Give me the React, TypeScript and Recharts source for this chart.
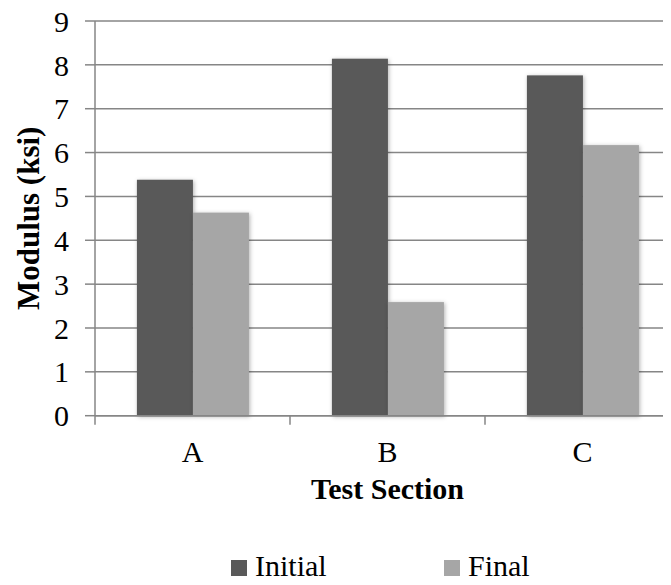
import React from "react";
import { BarChart, Bar, XAxis, YAxis, CartesianGrid, Legend } from "recharts";

const categories = ["A", "B", "C"];
const initialValues = [5.38, 8.14, 7.76];
const finalValues = [4.63, 2.59, 6.17];
const yTicks = [0, 1, 2, 3, 4, 5, 6, 7, 8, 9];
const seriesNames = ["Initial", "Final"];
const seriesColors = ["#595959", "#A6A6A6"];

const data = categories.map((c, i) => ({
  name: c,
  Initial: initialValues[i],
  Final: finalValues[i],
}));

const FONT = "Times New Roman, Liberation Serif, serif";
const AXIS_COLOR = "#868686";

const ShadowBar = (props: any) => {
  const { x, y, width, height, fill } = props;
  if (!height || height <= 0) return null;
  return (
    <rect
      x={x}
      y={y}
      width={width}
      height={height}
      fill={fill}
      style={{ filter: "drop-shadow(1px 1px 2px rgba(0,0,0,0.3))" }}
    />
  );
};

const XTick = (props: any) => {
  const { x, y, payload, index, visibleTicksCount } = props;
  const half = payload && payload.offset ? payload.offset : 97.5;
  const axisY = y - 25;
  return (
    <g>
      <line x1={x - half} x2={x - half} y1={axisY} y2={axisY + 9} stroke={AXIS_COLOR} strokeWidth={1.5} />
      {index === visibleTicksCount - 1 ? (
        <line x1={x + half} x2={x + half} y1={axisY} y2={axisY + 9} stroke={AXIS_COLOR} strokeWidth={1.5} />
      ) : null}
      <text x={x} y={y} dy="0.71em" textAnchor="middle" style={{ fontFamily: FONT, fontSize: 30 }} fill="#000">
        {payload.value}
      </text>
    </g>
  );
};

const YTick = (props: any) => {
  const { x, y, payload } = props;
  return (
    <text x={x} y={y} dy="0.355em" textAnchor="end" style={{ fontFamily: FONT, fontSize: 30 }} fill="#000">
      {payload.value}
    </text>
  );
};

const LegendContent = () => (
  <div style={{ display: "flex", fontFamily: FONT, fontSize: 30, color: "#000", lineHeight: "30px" }}>
    {seriesNames.map((n, i) => (
      <div key={n} style={{ width: 213, display: "flex", alignItems: "baseline" }}>
        <span style={{ display: "inline-block", width: 16, height: 16, background: seriesColors[i], marginRight: 8 }} />
        <span>{n}</span>
      </div>
    ))}
  </div>
);

export default function App() {
  return (
    <div style={{ margin: -8, width: 671, height: 585, overflow: "hidden", background: "#fff", fontFamily: FONT }}>
      <BarChart
        width={700}
        height={585}
        data={data}
        margin={{ top: 21, right: 20, left: 0, bottom: 0 }}
        barCategoryGap="21.5%"
        barGap={0}
        style={{ fontFamily: FONT }}
      >
        <CartesianGrid vertical={false} stroke={AXIS_COLOR} strokeWidth={1.5} />
        <XAxis
          dataKey="name"
          height={129.3}
          axisLine={{ stroke: AXIS_COLOR, strokeWidth: 1.5 }}
          tickLine={false}
          tickSize={8}
          tickMargin={17}
          tick={<XTick />}
          label={{
            value: "Test Section",
            position: "insideTop",
            offset: 62,
            style: { fontFamily: FONT, fontSize: 30, fontWeight: "bold", fill: "#000" },
          }}
        />
        <YAxis
          domain={[0, 9]}
          ticks={yTicks}
          width={95}
          interval={0}
          axisLine={{ stroke: AXIS_COLOR, strokeWidth: 1.5 }}
          tickLine={{ stroke: AXIS_COLOR, strokeWidth: 1.5 }}
          tickSize={10}
          tickMargin={16}
          tick={<YTick />}
          label={{
            value: "Modulus (ksi)",
            angle: -90,
            position: "insideLeft",
            offset: 28,
            style: { fontFamily: FONT, fontSize: 31, fontWeight: "bold", fill: "#000", textAnchor: "middle" },
          }}
        />
        <Legend
          verticalAlign="bottom"
          height={40}
          content={<LegendContent />}
          wrapperStyle={{ left: 231, width: 440, top: 551 }}
        />
        <Bar dataKey="Initial" name="Initial" fill={seriesColors[0]} isAnimationActive={false} shape={<ShadowBar />} />
        <Bar dataKey="Final" name="Final" fill={seriesColors[1]} isAnimationActive={false} shape={<ShadowBar />} />
      </BarChart>
    </div>
  );
}
